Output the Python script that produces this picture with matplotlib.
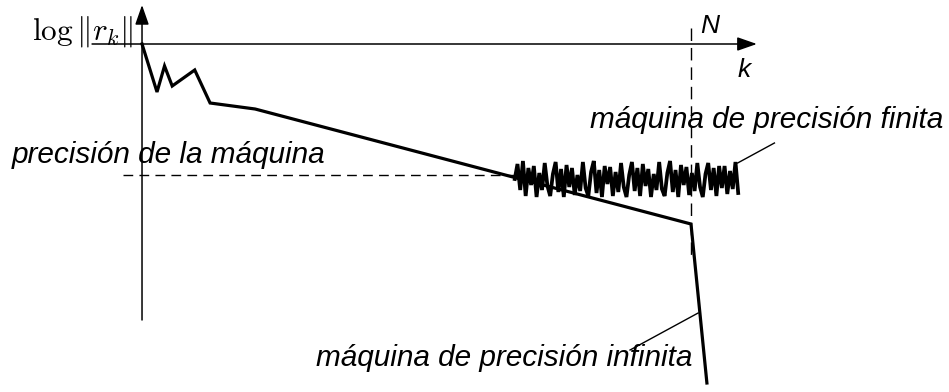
import matplotlib
matplotlib.use("Agg")
import matplotlib.pyplot as plt
import numpy as np

plt.rcParams['mathtext.fontset'] = 'cm'

# ---- data (schematic units: k on x, log||r_k|| on y) ----
k_curve = [0, 2.73, 4.1, 5.5, 9.6, 12.4, 20.6, 100.0, 102.9]
logr_curve = [0, -4.8, -2.2, -4.2, -2.6, -5.9, -6.5, -18.0, -33.9]

N_value = 100.0
machine_precision = -13.1

noise_k_start = 67.9
noise_k_end = 108.6
noise_logr = [
    -13.5, -12.0, -14.6, -11.7, -15.2, -12.4, -14.1, -12.2, -15.3, -12.9, -14.6, -11.9, -14.2, -15.2,
    -13.0, -11.8, -14.8, -12.5, -15.3, -12.1, -14.3, -12.4, -15.1, -13.1, -14.7, -11.8, -14.4, -15.2,
    -12.8, -11.7, -14.9, -12.6, -15.3, -12.2, -14.0, -12.3, -15.2, -12.8, -14.8, -11.9, -14.3, -15.3,
    -13.1, -11.8, -14.7, -12.4, -15.2, -12.0, -14.2, -12.5, -15.3, -13.0, -14.6, -11.8, -14.5, -15.2,
    -12.9, -11.7, -14.8, -12.6, -15.3, -12.1, -14.1, -12.3, -15.1, -12.9, -14.7, -11.9, -14.3, -15.3,
    -13.0, -11.9, -14.6, -12.4, -15.2, -12.2, -14.4, -12.2, -15.0, -12.7, -14.5, -11.8, -14.9,
]

label_y = r'$\log\|r_k\|$'
label_x = 'k'
label_N = 'N'
label_prec = 'precisión de la máquina'
label_finite = 'máquina de precisión finita'
label_infinite = 'máquina de precisión infinita'

# ---- figure ----
fig = plt.figure(figsize=(9.49, 3.92), dpi=100)
ax = fig.add_axes([0, 0, 1, 1])
ax.set_xlim(-25.87, 147.0)
ax.set_ylim(-34.8, 4.4)
ax.axis('off')

arrow = dict(arrowstyle='-|>,head_length=0.8,head_width=0.28', lw=1.1,
             color='black', mutation_scale=15, shrinkA=0, shrinkB=0)
# axes with arrows
ax.annotate('', xy=(0, 3.9), xytext=(0, -27.6), arrowprops=arrow)
ax.annotate('', xy=(112.0, 0), xytext=(-9.1, 0), arrowprops=arrow)

# dashed guides
ax.plot([-3.5, noise_k_start], [machine_precision, machine_precision],
        color='black', lw=1.0, ls=(0, (7, 4.5)))
ax.plot([N_value, N_value], [1.6, -21.3], color='black', lw=1.0, ls=(0, (9, 5)))

# main residual curve
ax.plot(k_curve, logr_curve, color='black', lw=2.3, solid_joinstyle='miter')

# noise (finite precision)
noise_k = np.linspace(noise_k_start, noise_k_end, len(noise_logr))
ax.plot(noise_k, noise_logr, color='black', lw=2.7, solid_joinstyle='miter')

# leader lines
ax.plot([108.5, 115.2], [-11.9, -9.9], color='black', lw=1.0)
ax.plot([88.9, 101.3], [-30.6, -26.9], color='black', lw=1.0)

# texts
tfont = dict(family='Liberation Sans', style='italic', color='black')
ax.text(-23.7, -11.9, label_prec, fontsize=21.4, ha='left', va='baseline', **tfont)
ax.text(145.9, -8.4, label_finite, fontsize=21.4, ha='right', va='baseline', **tfont)
ax.text(100.2, -32.2, label_infinite, fontsize=21.4, ha='right', va='baseline', **tfont)
ax.text(101.6, 1.1, label_N, fontsize=19, ha='left', va='baseline', **tfont)
ax.text(108.4, -3.3, label_x, fontsize=19, ha='left', va='baseline', **tfont)
ax.text(-1.6, 0.4, label_y, fontsize=22.5, ha='right', va='baseline', color='black')

fig.savefig('out.png', dpi=100)
